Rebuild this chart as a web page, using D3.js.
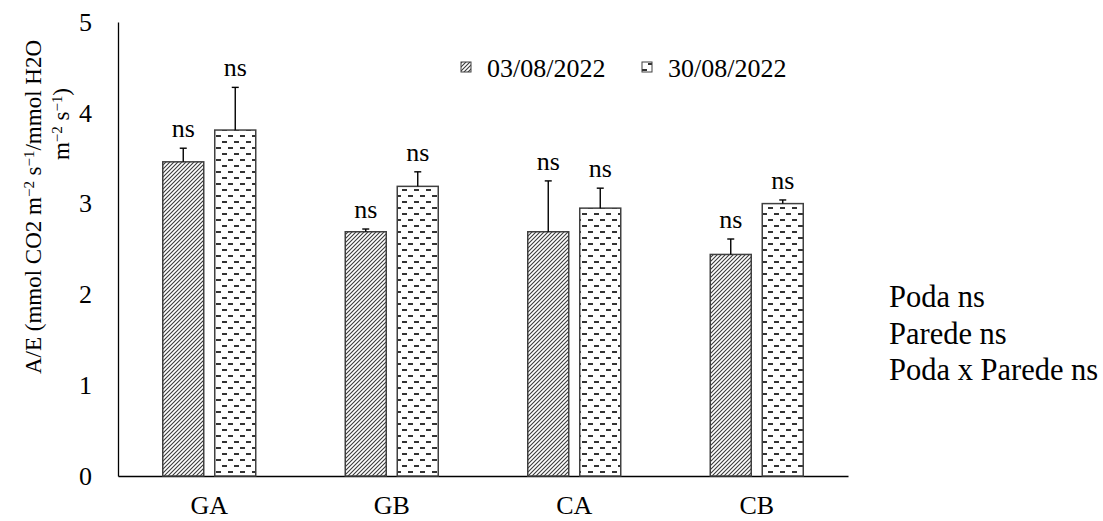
<!DOCTYPE html>
<html>
<head>
<meta charset="utf-8">
<script src="https://cdn.jsdelivr.net/npm/d3@7/dist/d3.min.js"></script>
<style>
  html, body { margin: 0; padding: 0; background: #fff; }
  svg { display: block; font-family: "Liberation Serif", "Times New Roman", serif; }
</style>
</head>
<body>
<svg id="chart" width="1103" height="521"></svg>
<script>
// ---- data ----
const categories = ["GA", "GB", "CA", "CB"];
const seriesNames = ["03/08/2022", "30/08/2022"];
const values1 = [3.46, 2.69, 2.69, 2.44];
const errors1 = [0.15, 0.03, 0.56, 0.17];
const values2 = [3.81, 3.19, 2.95, 3.00];
const errors2 = [0.47, 0.16, 0.22, 0.04];
const sigLabels1 = ["ns", "ns", "ns", "ns"];
const sigLabels2 = ["ns", "ns", "ns", "ns"];
const yTicks = [0, 1, 2, 3, 4, 5];
const notes = ["Poda ns", "Parede ns", "Poda x Parede ns"];

const FONT = "'Liberation Serif', 'Times New Roman', serif";
const svg = d3.select("#chart");
const defs = svg.append("defs");

// hatch pattern (diagonal /)
const p1 = defs.append("pattern").attr("id", "hatch")
  .attr("patternUnits", "userSpaceOnUse").attr("width", 4).attr("height", 4);
p1.append("rect").attr("width", 4).attr("height", 4).attr("fill", "#fff");
p1.append("path").attr("d", "M-1,1 l2,-2 M0,4 l4,-4 M3,5 l2,-2")
  .attr("stroke", "#3a3a3a").attr("stroke-width", 1.1);

// dashed horizontal pattern (alternating rows)
const p2 = defs.append("pattern").attr("id", "dash")
  .attr("patternUnits", "userSpaceOnUse").attr("width", 12).attr("height", 12)
  .attr("x", 0).attr("y", 2);
p2.append("rect").attr("width", 12).attr("height", 12).attr("fill", "#fff");
p2.append("rect").attr("x", 0).attr("y", 1).attr("width", 5).attr("height", 2).attr("fill", "#333");
p2.append("rect").attr("x", 6).attr("y", 7).attr("width", 5).attr("height", 2).attr("fill", "#333");

const fills = ["url(#hatch)", "url(#dash)"];

// ---- scales ----
const y = d3.scaleLinear().domain([0, 5]).range([476, 22]);
const x0 = d3.scaleBand().domain(categories).range([118, 848]).padding(0);
const x1 = d3.scaleBand().domain([0, 1]).range([0, x0.bandwidth()])
  .paddingInner(0.2115).paddingOuter(0.8606);

// ---- axes ----
const yAxis = svg.append("g").attr("transform", "translate(118,0)")
  .call(d3.axisLeft(y).tickValues(yTicks).tickFormat(d3.format("d")).tickSize(0).tickSizeOuter(0).tickPadding(26));
yAxis.attr("font-family", FONT);
yAxis.select(".domain").attr("stroke", "#000").attr("stroke-width", 1.3);
yAxis.selectAll("text").attr("font-size", 26).attr("fill", "#000");

const xAxis = svg.append("g").attr("transform", "translate(0,476)")
  .call(d3.axisBottom(x0).tickSize(0).tickSizeOuter(0).tickPadding(20));
xAxis.attr("font-family", FONT);
xAxis.select(".domain").attr("stroke", "#000").attr("stroke-width", 1.3);
xAxis.selectAll("text").attr("font-size", 26).attr("fill", "#000");

// ---- bars ----
const rows = categories.map((c, i) => [
  { cat: c, s: 0, v: values1[i], e: errors1[i], lab: sigLabels1[i] },
  { cat: c, s: 1, v: values2[i], e: errors2[i], lab: sigLabels2[i] }
]).flat();

const g = svg.append("g");
g.selectAll("rect.bar").data(rows).join("rect")
  .attr("class", "bar")
  .attr("x", d => x0(d.cat) + x1(d.s))
  .attr("y", d => y(d.v))
  .attr("width", x1.bandwidth())
  .attr("height", d => y(0) - y(d.v))
  .attr("fill", d => fills[d.s])
  .attr("stroke", "#404040").attr("stroke-width", 1.5);

// error bars
const cx = d => x0(d.cat) + x1(d.s) + x1.bandwidth() / 2;
g.selectAll("line.err").data(rows).join("line")
  .attr("class", "err")
  .attr("x1", cx).attr("x2", cx)
  .attr("y1", d => y(d.v)).attr("y2", d => y(d.v + d.e))
  .attr("stroke", "#000").attr("stroke-width", 1.4);
g.selectAll("line.cap").data(rows).join("line")
  .attr("class", "cap")
  .attr("x1", d => cx(d) - 3.5).attr("x2", d => cx(d) + 3.5)
  .attr("y1", d => y(d.v + d.e)).attr("y2", d => y(d.v + d.e))
  .attr("stroke", "#000").attr("stroke-width", 1.4);

// significance labels
g.selectAll("text.sig").data(rows).join("text")
  .attr("class", "sig")
  .attr("x", cx)
  .attr("y", d => y(d.v + d.e) - 11)
  .attr("text-anchor", "middle")
  .attr("font-family", FONT)
  .attr("font-size", 26)
  .text(d => d.lab);

// ---- legend ----
const legX = [461, 642];
const leg = svg.append("g").attr("font-family", FONT);
seriesNames.forEach((n, i) => {
  leg.append("rect").attr("x", legX[i]).attr("y", 62).attr("width", 10).attr("height", 10)
    .attr("fill", fills[i]).attr("stroke", "#404040").attr("stroke-width", 1);
  leg.append("text").attr("x", legX[i] + 26).attr("y", 77)
    .attr("font-size", 26).text(n);
});

// ---- notes ----
svg.append("g").attr("font-family", FONT).selectAll("text").data(notes).join("text")
  .attr("x", 889).attr("y", (d, i) => 307 + i * 36.5)
  .attr("font-size", 30.5).text(d => d);

// ---- y title ----
const t1 = svg.append("text").attr("transform", "translate(41,207) rotate(-90)")
  .attr("text-anchor", "middle").attr("font-size", 23).attr("font-family", FONT);
t1.append("tspan").text("A/E (mmol CO2 m");
t1.append("tspan").attr("font-size", "0.65em").attr("dy", "-0.5em").text("\u22122");
t1.append("tspan").attr("dy", "0.325em").text(" s");
t1.append("tspan").attr("font-size", "0.65em").attr("dy", "-0.5em").text("\u22121");
t1.append("tspan").attr("dy", "0.325em").text("/mmol H2O");

const t2 = svg.append("text").attr("transform", "translate(69,124) rotate(-90)")
  .attr("text-anchor", "middle").attr("font-size", 23).attr("font-family", FONT);
t2.append("tspan").text("m");
t2.append("tspan").attr("font-size", "0.65em").attr("dy", "-0.5em").text("\u22122");
t2.append("tspan").attr("dy", "0.325em").text(" s");
t2.append("tspan").attr("font-size", "0.65em").attr("dy", "-0.5em").text("\u22121");
t2.append("tspan").attr("dy", "0.325em").text(")");
</script>
</body>
</html>
